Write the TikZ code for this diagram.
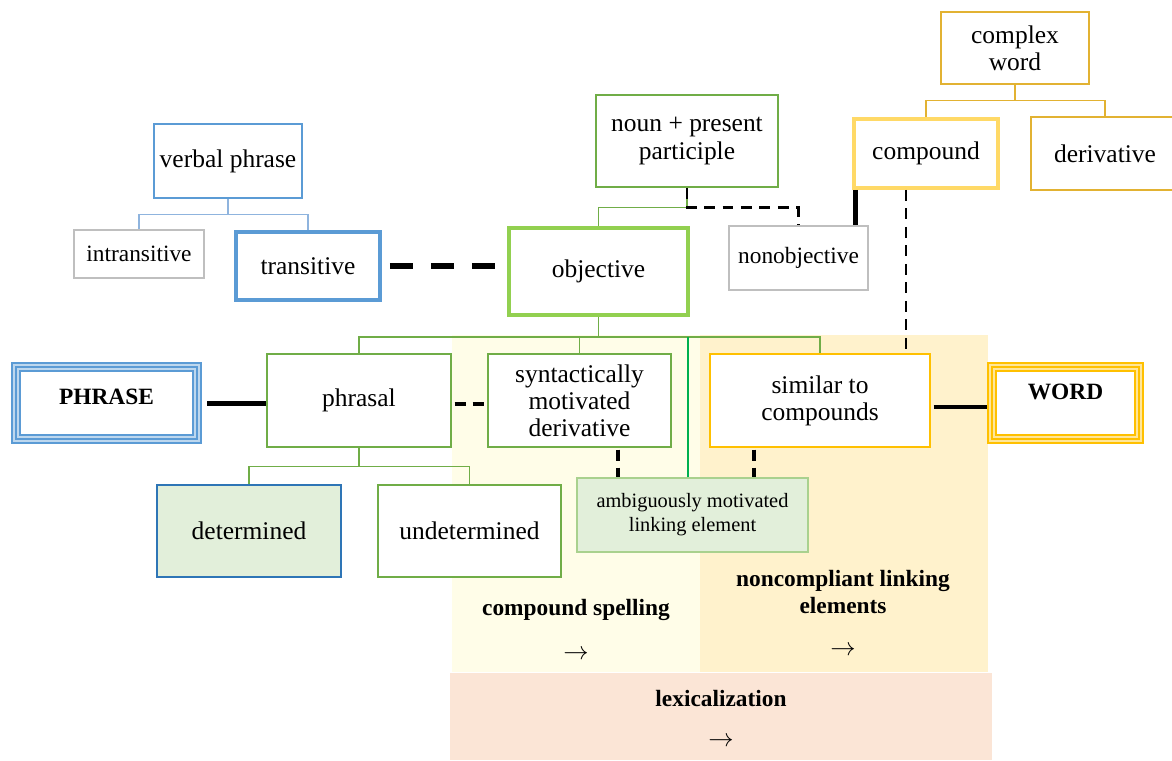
\documentclass[tikz,border=0pt]{standalone}
\usepackage{fontspec}
\setmainfont{Liberation Serif}
\usetikzlibrary{calc}
\definecolor{bluebd}{HTML}{5B9BD5}
\definecolor{bluelt}{HTML}{BDD7EE}
\definecolor{bluedk}{HTML}{2E75B6}
\definecolor{bluetree}{HTML}{8FB4DE}
\definecolor{greenbd}{HTML}{70AD47}
\definecolor{greenlt}{HTML}{92D050}
\definecolor{greenpale}{HTML}{A9D18E}
\definecolor{greenfill}{HTML}{E2EFDA}
\definecolor{greenvivid}{HTML}{00B050}
\definecolor{goldbd}{HTML}{E2B232}
\definecolor{goldlt}{HTML}{FFD966}
\definecolor{goldvivid}{HTML}{FFC000}
\definecolor{goldpale}{HTML}{FFE699}
\definecolor{graybd}{HTML}{BFBFBF}
\definecolor{spellbg}{HTML}{FFFDE8}
\definecolor{linkbg}{HTML}{FFF2CC}
\definecolor{lexbg}{HTML}{FBE5D6}

\begin{document}
\begin{tikzpicture}[x=0.02cm,y=-0.02cm,
  box/.style={draw,fill=white,line width=0.75pt,inner sep=0pt,align=center,font=\fontsize{14.5}{15.4}\selectfont},
  sz/.style 2 args={minimum width=#1*0.02cm,minimum height=#2*0.02cm},
  smalltxt/.style={font=\fontsize{13.3}{15}\selectfont},
  heavy/.style={line width=2.2pt},
  triple/.style 2 args={box,draw=#1,line width=0.2cm,postaction={draw=#2,line width=0.13cm},postaction={draw=#1,line width=0.05cm},font=\bfseries\fontsize{13.3}{15}\selectfont},
  boldtxt/.style={inner sep=0pt,align=center,font=\bfseries\fontsize{13.3}{15.4}\selectfont},
  arrowtxt/.style={inner sep=0pt,font=\fontsize{14.5}{15.4}\selectfont},
  branch/.style={line width=0.9pt},
  solidlink/.style={line width=0.1cm},
  dashlink/.style={line width=0.05cm,dash pattern=on 0.22cm off 0.15cm},
  heavydash/.style={line width=0.08cm,dash pattern=on 0.22cm off 0.14cm},
  widedash/.style={line width=0.12cm,dash pattern=on 0.46cm off 0.36cm}]
\useasboundingbox (0,0) rectangle (1172,760);
\fill[spellbg](452,335)rectangle(700,672);
\fill[linkbg](700,335)rectangle(988,672);
\fill[lexbg](450,673)rectangle(992,760);
\node[boldtxt](spell)at(576,610){compound spelling};
\node[arrowtxt](spellarr)at(576,655){$\rightarrow$};
\node[boldtxt](noncomp)at(843,592){noncompliant linking\\elements};
\node[arrowtxt](noncomparr)at(843,651){$\rightarrow$};
\node[boldtxt](lex)at(721,698){lexicalization};
\node[arrowtxt](lexarr)at(721,742){$\rightarrow$};

\node[box,draw=bluebd,sz={148}{74}](vp)at(228,161){verbal phrase};
\node[box,smalltxt,draw=graybd,sz={130}{48}](intr)at(139,254){intransitive};
\node[box,heavy,draw=bluebd,sz={144}{68}](trans)at(308,266){transitive};
\node[box,draw=greenbd,sz={182}{92}](npp)at(687,141){noun + present\\participle};
\node[box,heavy,draw=greenlt,sz={179}{87}](obj)at(598.5,271.5){objective};
\node[box,smalltxt,draw=graybd,sz={139}{64}](nonobj)at(798.5,258){nonobjective};
\node[box,draw=goldbd,sz={148}{72}](cw)at(1015,48){complex\\word};
\node[box,heavy,draw=goldlt,sz={144}{69}](comp)at(926,153.5){compound};
\node[box,draw=goldbd,sz={148}{73}](deriv)at(1105,153.5){derivative};
\node[triple={bluebd}{bluelt},sz={181}{72}](phrase)at(106.5,403){\raisebox{0.24cm}{PHRASE}};
\node[box,draw=greenbd,sz={184}{93}](phrasal)at(359,400.5){phrasal};
\node[box,draw=greenbd,sz={183}{93}](synt)at(579.5,400.5){syntactically\\motivated\\derivative};
\node[box,draw=goldvivid,sz={220}{93}](similar)at(820,400.5){similar to\\compounds};
\node[triple={goldvivid}{goldpale},sz={147}{72}](word)at(1065.5,403){\raisebox{0.44cm}{WORD}};
\node[box,draw=greenpale,fill=greenfill,sz={231}{74},font=\fontsize{11.6}{13.7}\selectfont](amb)at(692.5,515){ambiguously motivated\\linking element};
\node[box,draw=bluedk,fill=greenfill,sz={184}{92}](det)at(249,531){determined};
\node[box,draw=greenbd,sz={183}{92}](undet)at(469.5,531){undetermined};

\draw[branch,bluetree](vp.south)--++(0,16)coordinate(vpfork)-|(intr.north);
\draw[branch,bluetree](vpfork)-|(trans.north);
\draw[branch,greenbd](npp.south)--++(0,20)coordinate(nppfork)-|(obj.north);
\draw[branch,greenbd](obj.south)--++(0,20)coordinate(objfork)-|(phrasal.north);
\draw[branch,greenbd](objfork)-|(similar.north);
\draw[branch,greenbd](synt.north|-objfork)--(synt.north);
\draw[branch,greenbd](phrasal.south)--++(0,19)coordinate(phfork)-|(det.north);
\draw[branch,greenbd](phfork)-|(undet.north);
\draw[branch,goldbd](cw.south)--++(0,16)coordinate(cwfork)-|(comp.north);
\draw[branch,goldbd](cwfork)-|(deriv.north);
\draw[line width=0.6pt,greenvivid]([xshift=-0.09cm]amb.north)--([xshift=-0.09cm]amb.north|-objfork);

\draw[widedash,shorten <=0.16cm,shorten >=0.2cm](trans.east)--(trans.east-|obj.west);
\draw[dashlink](npp.south)--(nppfork)-|(nonobj.north);
\draw[solidlink]([xshift=0.06cm]comp.south west)--([xshift=0.06cm]comp.south west|-nonobj.north);
\draw[dashlink]([xshift=-0.4cm]comp.south)--([xshift=-0.4cm]comp.south|-similar.north);
\draw[solidlink,shorten <=0.1cm](phrase.east)--(phrase.east-|phrasal.west);
\draw[heavydash,shorten <=0.06cm,shorten >=0.06cm]([yshift=-0.06cm]phrasal.east)--([yshift=-0.06cm]synt.west);
\draw[heavydash,shorten <=0.04cm]([xshift=0.77cm]synt.south)--([xshift=0.77cm]synt.south|-amb.north);
\draw[heavydash,shorten <=0.04cm]([xshift=-1.32cm]similar.south)--([xshift=-1.32cm]similar.south|-amb.north);
\draw[solidlink,line width=0.09cm,shorten <=0.06cm]([yshift=-0.13cm]similar.east)--([yshift=-0.13cm]similar.east-|word.west);
\end{tikzpicture}
\end{document}
